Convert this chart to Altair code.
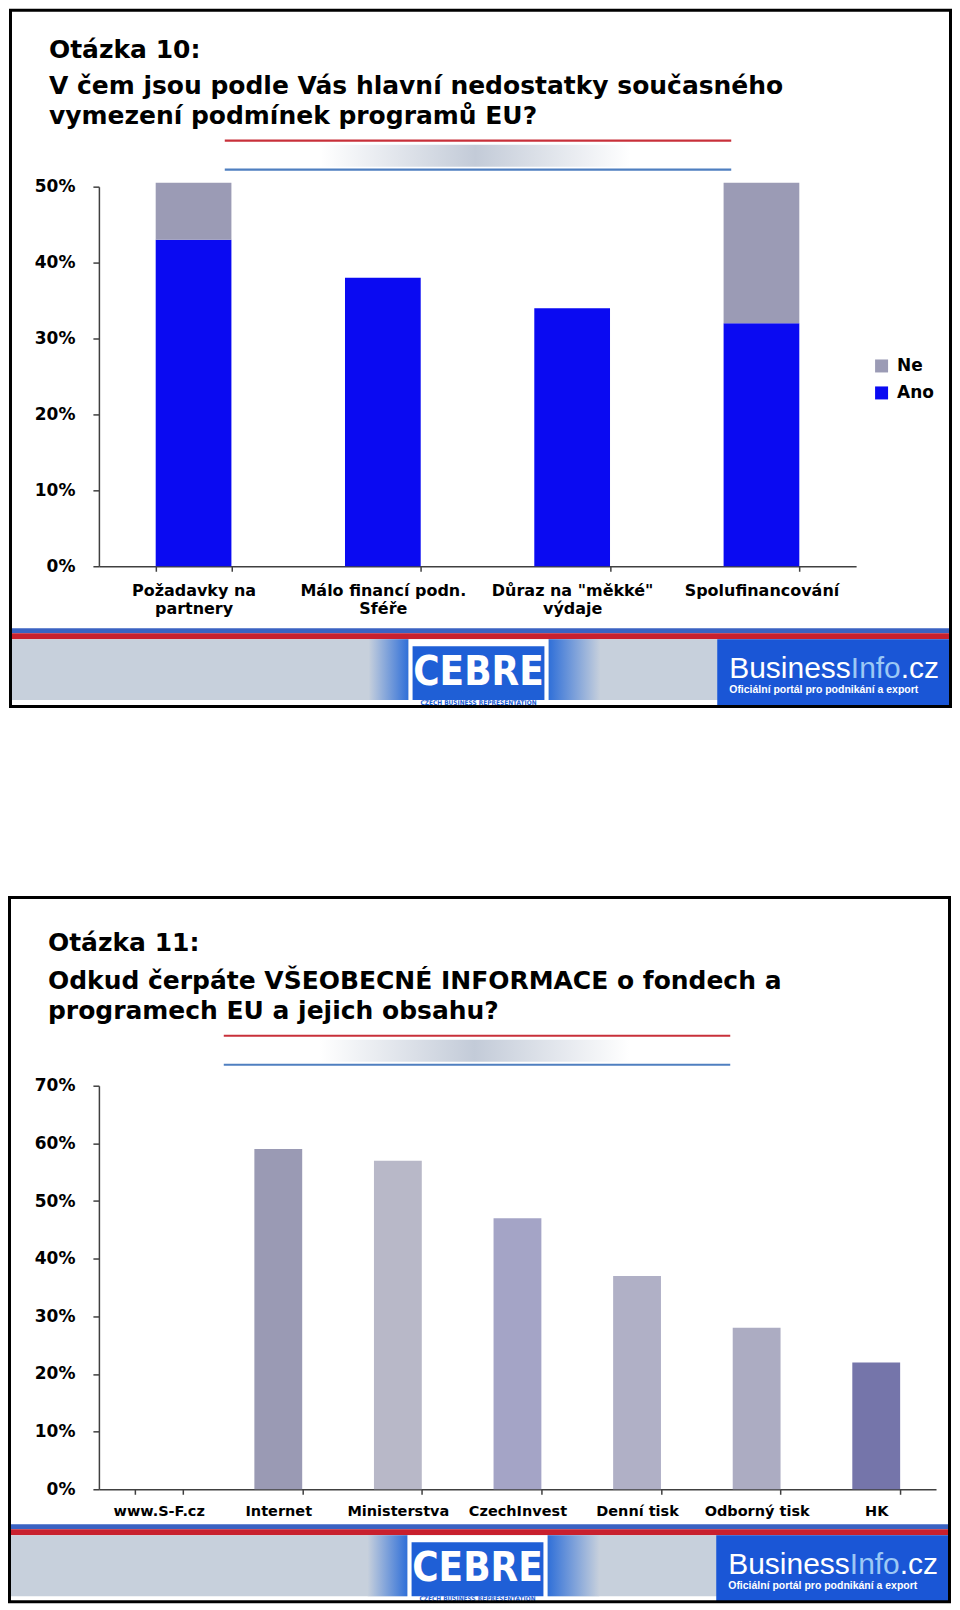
import altair as alt
import pandas as pd

# ---------------- data ----------------
q10_categories = ["Požadavky na\npartnery", "Málo financí podn.\nSféře",
                  "Důraz na \"měkké\"\nvýdaje", "Spolufinancování"]
q10_ano = [0.43, 0.38, 0.34, 0.32]
q10_ne = [0.075, 0.0, 0.0, 0.185]
q10_series = ["Ne", "Ano"]
q10_colors = ["#9b9bb5", "#0a0af2"]
q10_ticks = [0, 0.1, 0.2, 0.3, 0.4, 0.5]

q11_categories = ["www.S-F.cz", "Internet", "Ministerstva", "CzechInvest",
                  "Denní tisk", "Odborný tisk", "HK"]
q11_values = [0.0, 0.59, 0.57, 0.47, 0.37, 0.28, 0.22]
q11_colors = ["#9a9ab4", "#9a9ab4", "#b8b8c8", "#a4a4c6", "#b0b0c6", "#acacc2", "#7575aa"]
q11_ticks = [0, 0.1, 0.2, 0.3, 0.4, 0.5, 0.6, 0.7]

title10 = ["Otázka 10:", "V čem jsou podle Vás hlavní nedostatky současného",
           "vymezení podmínek programů EU?"]
title11 = ["Otázka 11:", "Odkud čerpáte VŠEOBECNÉ INFORMACE o fondech a",
           "programech EU a jejich obsahu?"]

FONT = "DejaVu Sans"
AXC = "#404040"
one = pd.DataFrame({"k": [0]})


def R(ox, oy, x1, x2, y1, y2, **kw):
    return alt.Chart(one).mark_rect(**kw).encode(
        x=alt.value(x1 - ox), x2=alt.value(x2 - ox),
        y=alt.value(y1 - oy), y2=alt.value(y2 - oy))


def L(ox, oy, x1, x2, y, color, w):
    return alt.Chart(one).mark_rule(color=color, strokeWidth=w).encode(
        x=alt.value(x1 - ox), x2=alt.value(x2 - ox), y=alt.value(y - oy))


def T(ox, oy, x, y, text, **kw):
    kw.setdefault("align", "left")
    kw.setdefault("baseline", "alphabetic")
    return alt.Chart(one).mark_text(**kw).encode(
        x=alt.value(x - ox), y=alt.value(y - oy), text=alt.value(text))


def hgrad(c1, c2, c3=None):
    if c3 is None:
        stops = [alt.GradientStop(color=c1, offset=0), alt.GradientStop(color=c2, offset=1)]
    else:
        stops = [alt.GradientStop(color=c1, offset=0), alt.GradientStop(color=c2, offset=0.5),
                 alt.GradientStop(color=c3, offset=1)]
    return alt.Gradient(gradient="linear", stops=stops, x1=0, x2=1, y1=0, y2=0)


def decorations(ox, oy, btop, bbot, titles, tb, red_y, blue_y, t):
    back = []
    for line, b in zip(titles, tb):
        back.append(T(ox, oy, 48, b, line, font=FONT, fontSize=25, fontWeight="bold", color="black"))
    back.append(L(ox, oy, 224, 731, red_y, "#c8303a", 2.2))
    back.append(R(ox, oy, 320, 630, red_y + 4, blue_y - 3, color=hgrad("#ffffff", "#c3cbd8", "#ffffff")))
    back.append(L(ox, oy, 224, 731, blue_y, "#4f7fc0", 2.2))
    back.append(R(ox, oy, 10, 950, t, t + 5, color="#3a62c2"))
    back.append(R(ox, oy, 10, 950, t + 5, t + 11, color="#c8202e"))
    back.append(R(ox, oy, 10, 950, t + 11, t + 72, color="#c7d0dc"))
    back.append(R(ox, oy, 368, 408, t + 11, t + 72, color=hgrad("#c7d0dc", "#2f6fd8")))
    back.append(R(ox, oy, 548, 600, t + 11, t + 72, color=hgrad("#2f6fd8", "#c7d0dc")))
    back.append(R(ox, oy, 408, 548, t + 11, t + 78, color="#ffffff"))
    back.append(R(ox, oy, 412, 544, t + 18, t + 72, color="#1f5fd6"))
    back.append(T(ox, oy, 478, t + 57, "CEBRE", font="DejaVu Sans Condensed", fontSize=40,
                  fontWeight="bold", color="white", align="center"))
    back.append(T(ox, oy, 478, t + 77, "CZECH BUSINESS REPRESENTATION", font="DejaVu Sans Condensed",
                  fontSize=6.5, fontWeight="bold", color="#1f5fd6", align="center"))
    back.append(R(ox, oy, 717, 950, t + 11, t + 78, color="#1a56d6"))
    back.append(T(ox, oy, 729, t + 50, "Business", font="Liberation Sans", fontSize=30, color="white"))
    back.append(T(ox, oy, 850.7, t + 50, "Info", font="Liberation Sans", fontSize=30, color="#9cc8f5"))
    back.append(T(ox, oy, 900.7, t + 50, ".cz", font="Liberation Sans", fontSize=30, color="white"))
    back.append(T(ox, oy, 729, t + 65, "Oficiální portál pro podnikání a export", font="Liberation Sans",
                  fontSize=10.5, fontWeight="bold", color="white"))
    border = R(ox, oy, 9.5, 950.5, btop, bbot, fillOpacity=0, stroke="black", strokeWidth=3)
    return back, border


def yaxis(ticks):
    return alt.Axis(values=ticks, format=".0%", title=None, grid=False,
                    labelFont=FONT, labelFontWeight="bold", labelFontSize=17, labelColor="black",
                    labelPadding=18, tickSize=6, tickColor=AXC, domainColor=AXC, domainWidth=1.5,
                    tickWidth=1.5)


# ---------------- panel 1 ----------------
O1x, O1y = 98, 186
df1 = pd.DataFrame({
    "cat": q10_categories + q10_categories,
    "series": ["Ano"] * len(q10_ano) + ["Ne"] * len(q10_ne),
    "value": q10_ano + q10_ne,
    "ord": [0] * len(q10_ano) + [1] * len(q10_ne),
})
bars1 = alt.Chart(df1).mark_bar().encode(
    x=alt.X("cat:N", sort=q10_categories,
            scale=alt.Scale(paddingInner=0.6, paddingOuter=0.3),
            axis=alt.Axis(title=None, labelAngle=0, labelFont=FONT, labelFontWeight="bold",
                          labelFontSize=16, labelColor="black", labelLimit=400, labelOverlap=False,
                          labelExpr="split(datum.label, '\\n')", labelLineHeight=18,
                          tickBand="extent", tickSize=5, tickColor=AXC, tickWidth=1.5,
                          domainColor=AXC, domainWidth=1.5, labelPadding=11)),
    y=alt.Y("value:Q", stack="zero", scale=alt.Scale(domain=[0, 0.5], nice=False), axis=yaxis(q10_ticks)),
    color=alt.Color("series:N", scale=alt.Scale(domain=q10_series, range=q10_colors),
                    legend=alt.Legend(title=None, orient="none", legendX=775, legendY=171,
                                      symbolType="square", symbolSize=169, symbolStrokeWidth=0,
                                      labelFont=FONT, labelFontWeight="bold", labelFontSize=17,
                                      labelColor="black", labelOffset=7, rowPadding=9, padding=0)),
    order=alt.Order("ord:Q", sort="ascending"),
)
back1, border1 = decorations(O1x, O1y, 9.5, 706.5, title10, [57, 93, 123], 140, 169, 628)
panel1 = alt.layer(*back1, bars1, border1).properties(width=758, height=380)

# ---------------- panel 2 ----------------
O2x, O2y = 99, 1086
df2 = pd.DataFrame({"cat": q11_categories, "value": q11_values})
bars2 = alt.Chart(df2).mark_bar().encode(
    x=alt.X("cat:N", sort=q11_categories,
            scale=alt.Scale(paddingInner=0.6, paddingOuter=0.3),
            axis=alt.Axis(title=None, labelAngle=0, labelFont=FONT, labelFontWeight="bold",
                          labelFontSize=14.5, labelColor="black", labelLimit=400, labelOverlap=False,
                          tickBand="extent", tickSize=5, tickColor=AXC, tickWidth=1.5,
                          domainColor=AXC, domainWidth=1.5, labelPadding=10)),
    y=alt.Y("value:Q", scale=alt.Scale(domain=[0, 0.7], nice=False), axis=yaxis(q11_ticks)),
    fill=alt.Fill("cat:N", scale=alt.Scale(domain=q11_categories, range=q11_colors), legend=None),
)
back2, border2 = decorations(O2x, O2y, 897.5, 1602.5, title11, [951, 989, 1019], 1036, 1065, 1525)
panel2 = alt.layer(*back2, bars2, border2).properties(width=838, height=404)

chart = alt.vconcat(panel1, panel2, spacing=188).resolve_scale(
    color="independent", fill="independent", x="independent", y="independent"
).resolve_legend(color="independent", fill="independent").properties(
    padding=0, background="white"
).configure_view(strokeWidth=0)

chart.save("out.html", embed_options={"renderer": "svg", "actions": False})
